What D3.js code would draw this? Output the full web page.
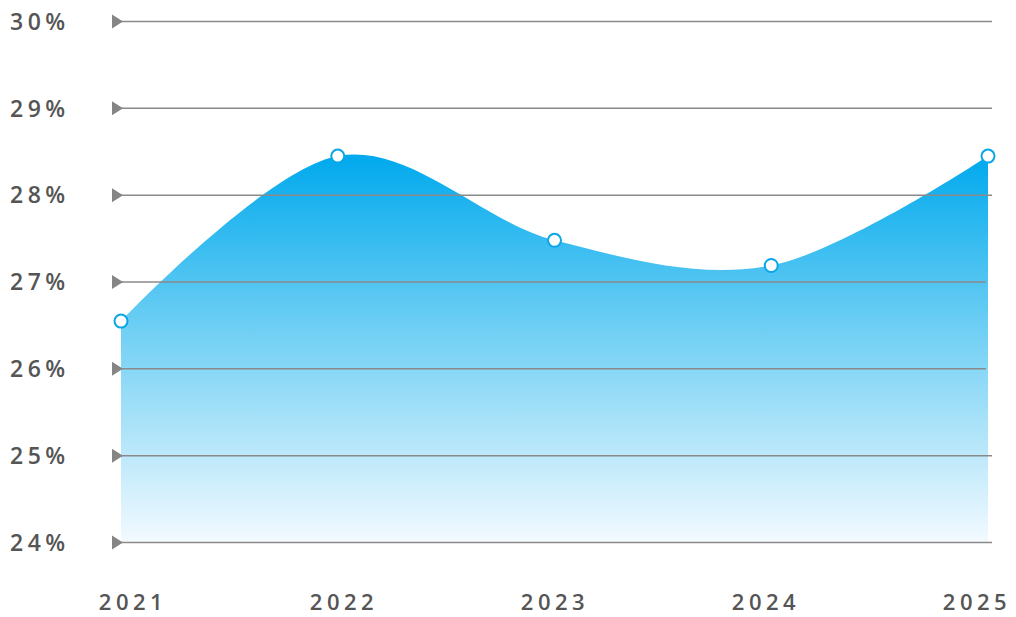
<!DOCTYPE html>
<html>
<head>
<meta charset="utf-8">
<script src="https://cdn.jsdelivr.net/npm/d3@7"></script>
<style>
  body { margin: 0; background: #fff; }
  text { font-family: 'Open Sans', 'DejaVu Sans', sans-serif; font-weight: 600; fill: #555; }
</style>
</head>
<body>
<div id="chart"></div>
<script>
const years = ['2021', '2022', '2023', '2024', '2025']
const values = [26.55, 28.45, 27.48, 27.19, 28.45]
const yTicks = [24, 25, 26, 27, 28, 29, 30]
const shortGrid = [26, 27]

const w = 1016
const h = 617

const svg = d3.select('#chart').append('svg')
  .attr('width', w)
  .attr('height', h)

const x = d3.scalePoint().domain(years).range([121, 988])
const xLabel = d3.scalePoint().domain(years).range([131, 975])
const y = d3.scaleLinear().domain([24, 30]).range([542.5, 21.5])

const defs = svg.append('defs')
const grad = defs.append('linearGradient')
  .attr('id', 'fill')
  .attr('x1', 0).attr('y1', 0).attr('x2', 0).attr('y2', 1)
grad.append('stop').attr('offset', '0%').attr('stop-color', '#00a9ed')
grad.append('stop').attr('offset', '45%').attr('stop-color', '#6fcff4')
grad.append('stop').attr('offset', '100%').attr('stop-color', '#f3faff')

const pts = years.map((d, i) => [x(d), y(values[i])])

const area = d3.area()
  .x(d => d[0])
  .y0(y(24))
  .y1(d => d[1])
  .curve(d3.curveCardinal.tension(0))

svg.append('path')
  .attr('d', area(pts))
  .attr('fill', 'url(#fill)')

// gridlines drawn over the area
const grid = svg.append('g')
grid.selectAll('line')
  .data(yTicks)
  .enter().append('line')
    .attr('x1', 118)
    .attr('x2', d => shortGrid.includes(d) ? 986 : 992)
    .attr('y1', d => y(d))
    .attr('y2', d => y(d))
    .attr('stroke', '#8a8a8a')
    .attr('stroke-width', 1.5)

grid.selectAll('path')
  .data(yTicks)
  .enter().append('path')
    .attr('d', d => 'M112,' + (y(d) - 7) + 'L123,' + y(d) + 'L112,' + (y(d) + 7) + 'Z')
    .attr('fill', '#858585')

svg.append('g').selectAll('text')
  .data(yTicks)
  .enter().append('text')
    .attr('x', 10)
    .attr('y', d => y(d))
    .attr('dy', '0.36em')
    .attr('font-size', 23)
    .attr('letter-spacing', '4.5px')
    .text(d => d + '%')

svg.append('g').selectAll('text')
  .data(years)
  .enter().append('text')
    .attr('x', d => xLabel(d) + 2)
    .attr('y', 610)
    .attr('text-anchor', 'middle')
    .attr('font-size', 22)
    .attr('letter-spacing', '4.5px')
    .text(d => d)

svg.append('g').selectAll('circle')
  .data(pts)
  .enter().append('circle')
    .attr('cx', d => d[0])
    .attr('cy', d => d[1])
    .attr('r', 6.5)
    .attr('fill', '#fff')
    .attr('stroke', '#0aa6e6')
    .attr('stroke-width', 2)
</script>
</body>
</html>
